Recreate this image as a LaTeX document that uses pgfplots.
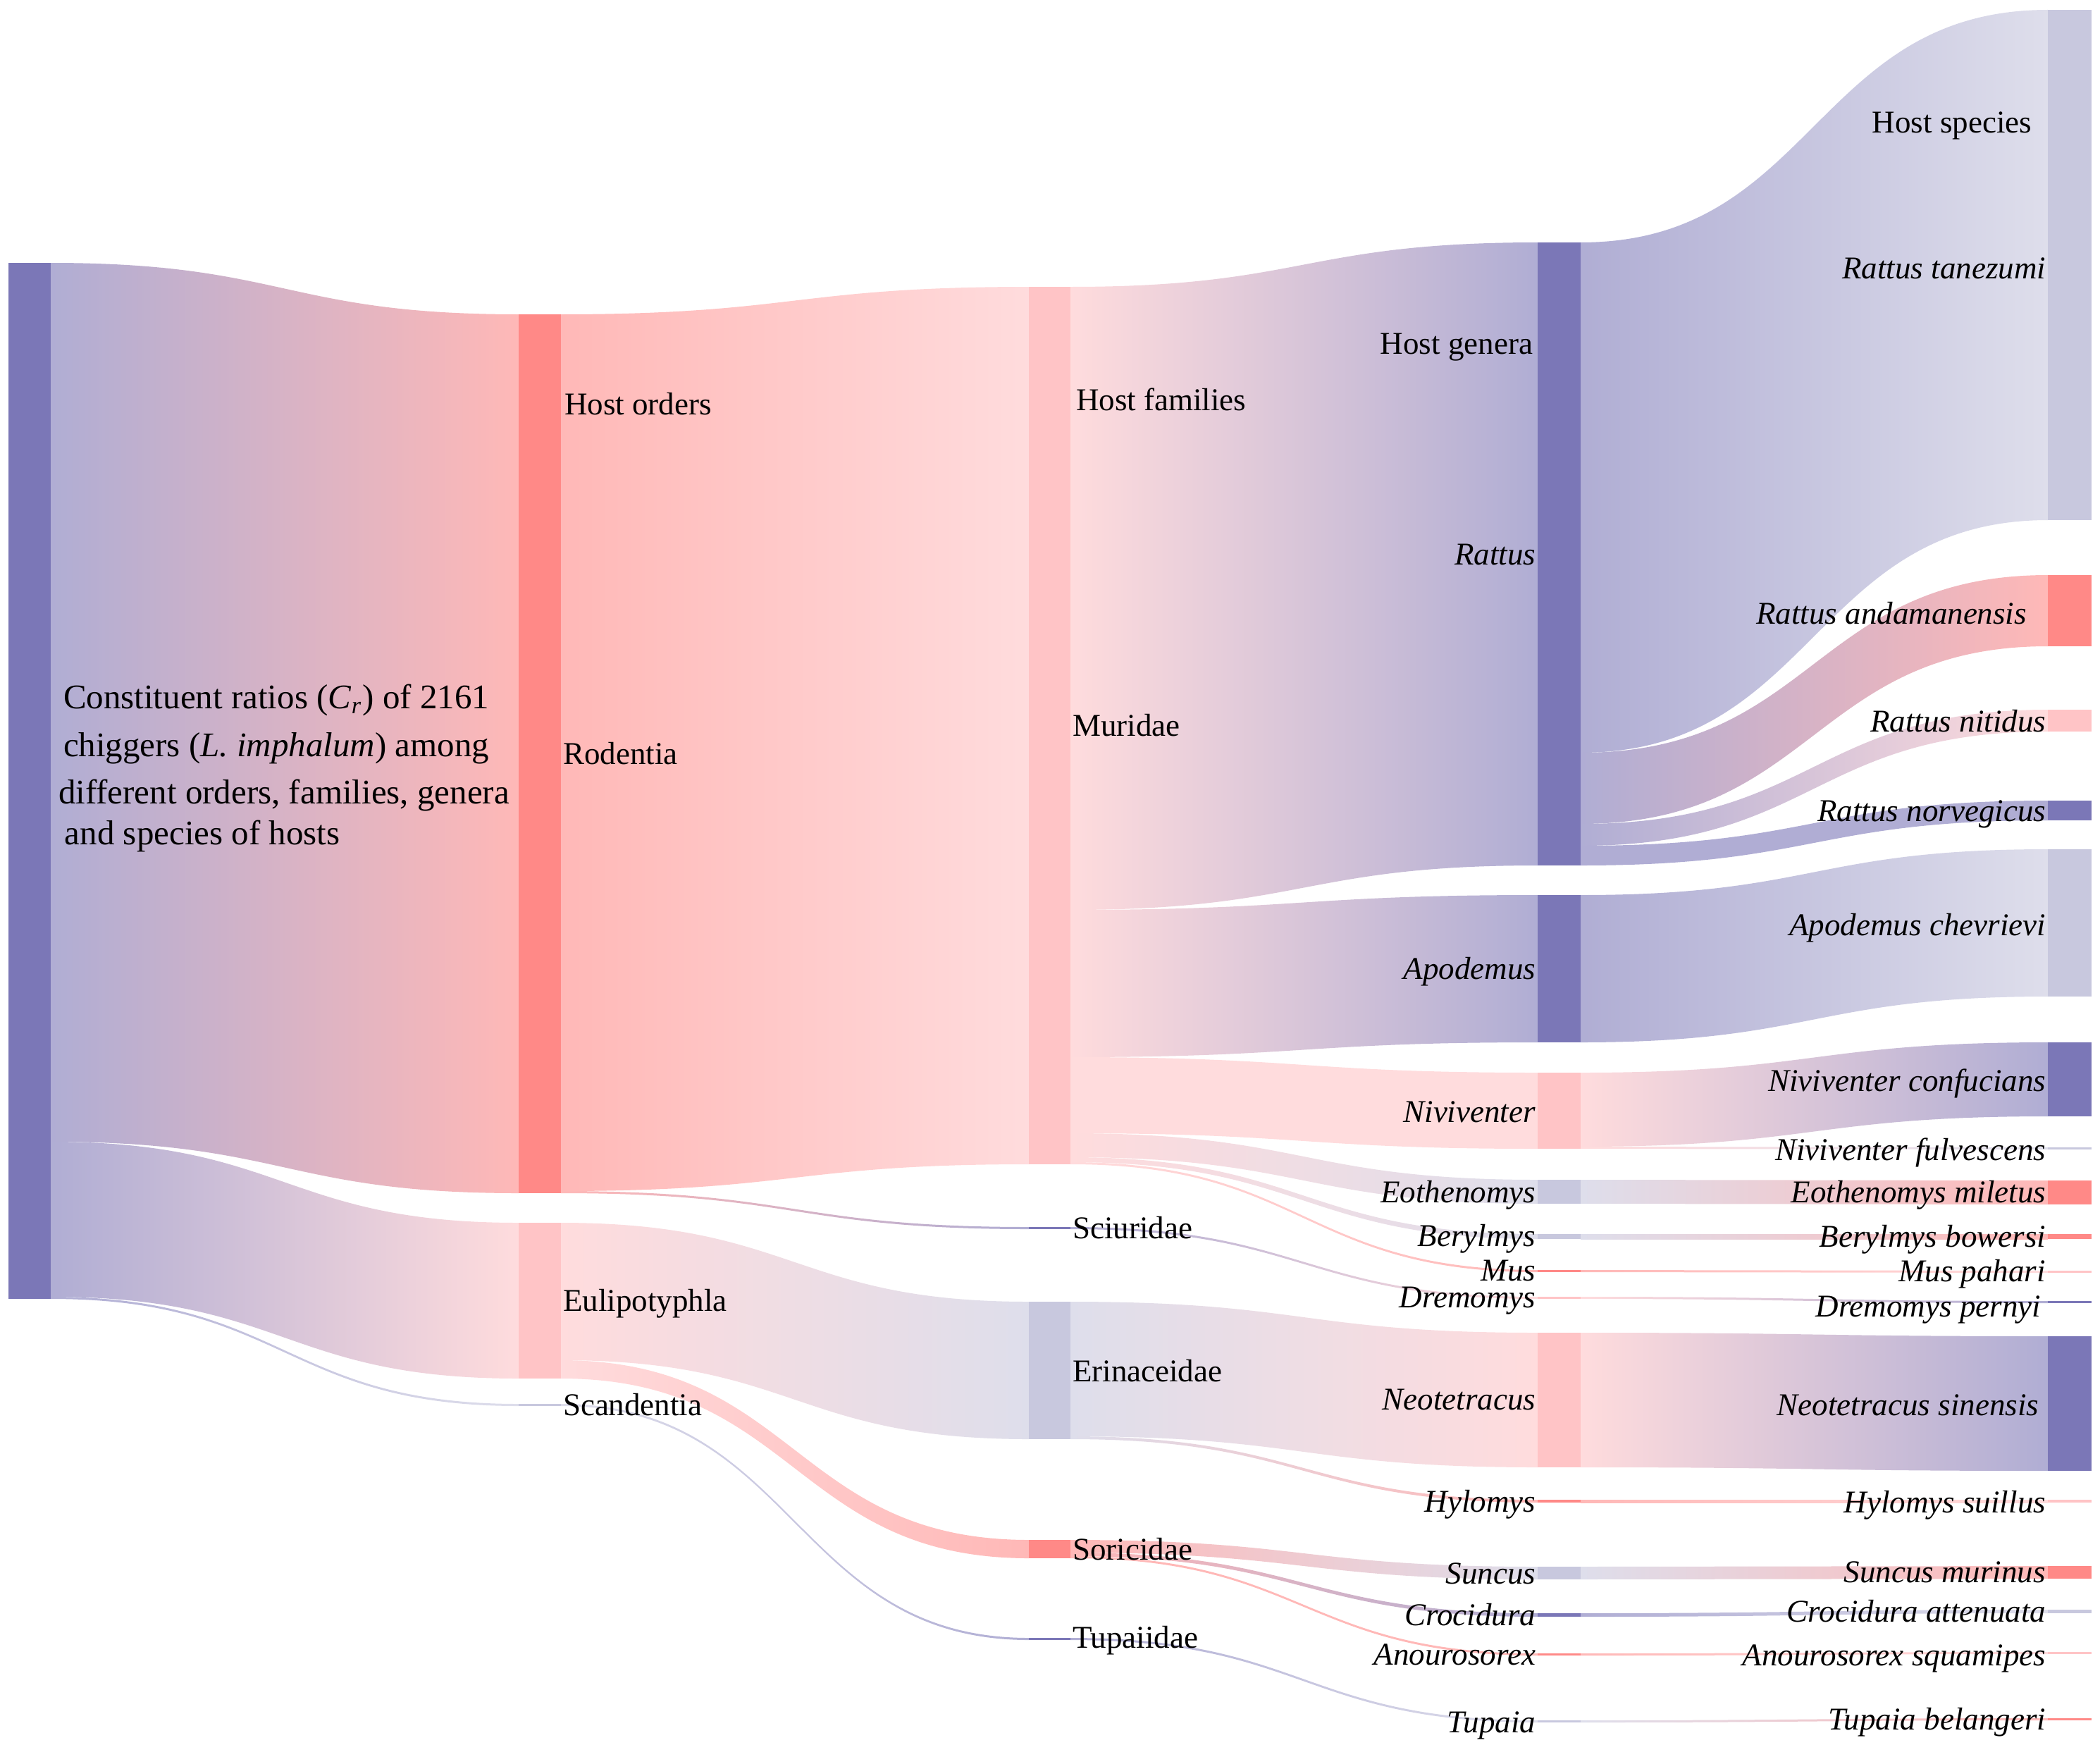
\documentclass[border=0pt]{standalone}
\usepackage{pgfplots}
\pgfplotsset{compat=1.18}
\usepackage{fontspec}
\setmainfont{Liberation Serif}
\definecolor{cPur}{RGB}{123,119,183}
\definecolor{cSal}{RGB}{255,137,135}
\definecolor{cPnk}{RGB}{255,196,198}
\definecolor{cLav}{RGB}{200,200,222}
% flow: x0, ytop0, ybot0, x1, ytop1, ybot1, colour0, colour1, xmid
\newcommand{\flow}[9]{\path[left color=#7!60!white, right color=#8!60!white]
  (axis cs:#1,#2) .. controls (axis cs:#9,#2) and (axis cs:#9,#5) .. (axis cs:#4,#5)
  -- (axis cs:#4,#6) .. controls (axis cs:#9,#6) and (axis cs:#9,#3) .. (axis cs:#1,#3) -- cycle;}
% node bar: x0, x1, ytop, ybot, colour
\newcommand{\nodebar}[5]{\addplot[fill=#5, draw=none, mark=none, forget plot] coordinates {(#1,#3) (#2,#3) (#2,#4) (#1,#4)};}
\newcommand{\lbl}[4]{\node[anchor=#1, inner sep=0pt, font=\fontsize{9}{11}\selectfont] at (axis cs:#2,#3) {#4};}
\newcommand{\rlbl}[4]{\node[anchor=#1, inner sep=0pt, font=\fontsize{9.8}{12}\selectfont] at (axis cs:#2,#3) {#4};}
\begin{document}
\begin{tikzpicture}
\begin{axis}[width=596pt, height=495pt, scale only axis,
  xmin=0, xmax=2980, ymin=0, ymax=2475, y dir=reverse,
  hide axis, clip=false]
% ---- level 1 -> 2
\flow{72}{373}{1620}{736}{446}{1693}{cPur}{cSal}{404}
\flow{72}{1620}{1840}{736}{1735}{1956}{cPur}{cPnk}{404}
\flow{72}{1840}{1843}{736}{1992}{1995}{cPur}{cLav}{404}
% ---- level 2 -> 3
\flow{796}{446}{1690}{1460}{407}{1652}{cSal}{cPnk}{1128}
\flow{796}{1690}{1693}{1460}{1741}{1744}{cSal}{cPur}{1128}
\flow{796}{1735}{1930}{1460}{1847}{2042}{cPnk}{cLav}{1128}
\flow{796}{1930}{1956}{1460}{2185}{2211}{cPnk}{cSal}{1128}
\flow{796}{1992}{1995}{1460}{2324}{2327}{cLav}{cPur}{1128}
% ---- level 3 -> 4
\flow{1519}{407}{1291}{2182}{344}{1228}{cPnk}{cPur}{1850}
\flow{1519}{1291}{1500}{2182}{1270}{1479}{cPnk}{cPur}{1850}
\flow{1519}{1500}{1608}{2182}{1522}{1630}{cPnk}{cPnk}{1850}
\flow{1519}{1608}{1642}{2182}{1674}{1708}{cPnk}{cLav}{1850}
\flow{1519}{1642}{1649}{2182}{1751}{1758}{cPnk}{cLav}{1850}
\flow{1519}{1649}{1652}{2182}{1802}{1805}{cPnk}{cSal}{1850}
\flow{1519}{1741}{1744}{2182}{1840}{1843}{cPur}{cPnk}{1850}
\flow{1519}{1847}{2038}{2182}{1891}{2082}{cLav}{cPnk}{1850}
\flow{1519}{2038}{2042}{2182}{2128}{2132}{cLav}{cSal}{1850}
\flow{1519}{2185}{2203}{2182}{2223}{2241}{cSal}{cLav}{1850}
\flow{1519}{2203}{2208}{2182}{2289}{2294}{cSal}{cPur}{1850}
\flow{1519}{2208}{2211}{2182}{2346}{2349}{cSal}{cSal}{1850}
\flow{1519}{2324}{2327}{2182}{2441}{2444}{cPur}{cLav}{1850}
% ---- level 4 -> 5
\flow{2243}{344}{1068}{2906}{14}{738}{cPur}{cLav}{2574}
\flow{2243}{1068}{1169}{2906}{816}{917}{cPur}{cSal}{2574}
\flow{2243}{1169}{1200}{2906}{1007}{1038}{cPur}{cPnk}{2574}
\flow{2243}{1200}{1228}{2906}{1136}{1164}{cPur}{cPur}{2574}
\flow{2243}{1270}{1479}{2906}{1205}{1414}{cPur}{cLav}{2574}
\flow{2243}{1522}{1627}{2906}{1479}{1584}{cPnk}{cPur}{2574}
\flow{2243}{1627}{1630}{2906}{1628}{1631}{cPnk}{cLav}{2574}
\flow{2243}{1674}{1708}{2906}{1675}{1709}{cLav}{cSal}{2574}
\flow{2243}{1751}{1758}{2906}{1751}{1758}{cLav}{cSal}{2574}
\flow{2243}{1802}{1805}{2906}{1803}{1806}{cSal}{cPnk}{2574}
\flow{2243}{1840}{1843}{2906}{1846}{1849}{cPnk}{cPur}{2574}
\flow{2243}{1891}{2082}{2906}{1896}{2087}{cPnk}{cPur}{2574}
\flow{2243}{2128}{2132}{2906}{2128}{2132}{cSal}{cPnk}{2574}
\flow{2243}{2223}{2241}{2906}{2222}{2240}{cLav}{cSal}{2574}
\flow{2243}{2289}{2294}{2906}{2284}{2289}{cPur}{cLav}{2574}
\flow{2243}{2346}{2349}{2906}{2344}{2347}{cSal}{cPnk}{2574}
\flow{2243}{2441}{2444}{2906}{2438}{2441}{cLav}{cSal}{2574}
% ---- nodes
\nodebar{12}{72}{373}{1843}{cPur}
\nodebar{736}{796}{446}{1693}{cSal}
\nodebar{736}{796}{1735}{1956}{cPnk}
\nodebar{736}{796}{1992}{1995}{cLav}
\nodebar{1460}{1519}{407}{1652}{cPnk}
\nodebar{1460}{1519}{1741}{1744}{cPur}
\nodebar{1460}{1519}{1847}{2042}{cLav}
\nodebar{1460}{1519}{2185}{2211}{cSal}
\nodebar{1460}{1519}{2324}{2327}{cPur}
\nodebar{2182}{2243}{344}{1228}{cPur}
\nodebar{2182}{2243}{1270}{1479}{cPur}
\nodebar{2182}{2243}{1522}{1630}{cPnk}
\nodebar{2182}{2243}{1674}{1708}{cLav}
\nodebar{2182}{2243}{1751}{1758}{cLav}
\nodebar{2182}{2243}{1802}{1805}{cSal}
\nodebar{2182}{2243}{1840}{1843}{cPnk}
\nodebar{2182}{2243}{1891}{2082}{cPnk}
\nodebar{2182}{2243}{2128}{2132}{cSal}
\nodebar{2182}{2243}{2223}{2241}{cLav}
\nodebar{2182}{2243}{2289}{2294}{cPur}
\nodebar{2182}{2243}{2346}{2349}{cSal}
\nodebar{2182}{2243}{2441}{2444}{cLav}
\nodebar{2906}{2968}{14}{738}{cLav}
\nodebar{2906}{2968}{816}{917}{cSal}
\nodebar{2906}{2968}{1007}{1038}{cPnk}
\nodebar{2906}{2968}{1136}{1164}{cPur}
\nodebar{2906}{2968}{1205}{1414}{cLav}
\nodebar{2906}{2968}{1479}{1584}{cPur}
\nodebar{2906}{2968}{1628}{1631}{cLav}
\nodebar{2906}{2968}{1675}{1709}{cSal}
\nodebar{2906}{2968}{1751}{1758}{cSal}
\nodebar{2906}{2968}{1803}{1806}{cPnk}
\nodebar{2906}{2968}{1846}{1849}{cPur}
\nodebar{2906}{2968}{1896}{2087}{cPur}
\nodebar{2906}{2968}{2128}{2132}{cPnk}
\nodebar{2906}{2968}{2222}{2240}{cSal}
\nodebar{2906}{2968}{2284}{2289}{cLav}
\nodebar{2906}{2968}{2344}{2347}{cPnk}
\nodebar{2906}{2968}{2438}{2441}{cSal}
% ---- root label
\rlbl{base west}{89}{1005}{Constituent ratios (\textit{C}\textsubscript{\textit{r}}) of 2161}
\rlbl{base west}{89}{1073}{chiggers (\textit{L. imphalum}) among}
\rlbl{base west}{82}{1140}{different orders, families, genera}
\rlbl{base west}{91}{1198}{and species of hosts}
% ---- orders
\lbl{base west}{800}{588}{Host orders}
\lbl{base west}{798}{1084}{Rodentia}
\lbl{base west}{798}{1860}{Eulipotyphla}
\lbl{base west}{798}{2008}{Scandentia}
% ---- families
\lbl{base west}{1526}{582}{Host families}
\lbl{base west}{1521}{1044}{Muridae}
\lbl{base west}{1521}{1757}{Sciuridae}
\lbl{base west}{1521}{1960}{Erinaceidae}
\lbl{base west}{1521}{2213}{Soricidae}
\lbl{base west}{1521}{2338}{Tupaiidae}
% ---- genera
\lbl{base east}{2176}{502}{Host genera}
\lbl{base east}{2180}{801}{\textit{Rattus}}
\lbl{base east}{2180}{1389}{\textit{Apodemus}}
\lbl{base east}{2180}{1592}{\textit{Niviventer}}
\lbl{base east}{2180}{1706}{\textit{Eothenomys}}
\lbl{base east}{2180}{1768}{\textit{Berylmys}}
\lbl{base east}{2180}{1817}{\textit{Mus}}
\lbl{base east}{2180}{1855}{\textit{Dremomys}}
\lbl{base east}{2180}{2000}{\textit{Neotetracus}}
\lbl{base east}{2180}{2145}{\textit{Hylomys}}
\lbl{base east}{2180}{2247}{\textit{Suncus}}
\lbl{base east}{2180}{2306}{\textit{Crocidura}}
\lbl{base east}{2180}{2362}{\textit{Anourosorex}}
\lbl{base east}{2180}{2458}{\textit{Tupaia}}
% ---- species
\lbl{base east}{2884}{189}{Host species}
\lbl{base east}{2904}{395}{\textit{Rattus tanezumi}}
\lbl{base east}{2877}{885}{\textit{Rattus andamanensis}}
\lbl{base east}{2904}{1038}{\textit{Rattus nitidus}}
\lbl{base east}{2904}{1165}{\textit{Rattus norvegicus}}
\lbl{base east}{2904}{1327}{\textit{Apodemus chevrievi}}
\lbl{base east}{2904}{1548}{\textit{Niviventer confucians}}
\lbl{base east}{2904}{1646}{\textit{Niviventer fulvescens}}
\lbl{base east}{2904}{1706}{\textit{Eothenomys miletus}}
\lbl{base east}{2904}{1769}{\textit{Berylmys bowersi}}
\lbl{base east}{2904}{1818}{\textit{Mus pahari}}
\lbl{base east}{2897}{1868}{\textit{Dremomys pernyi}}
\lbl{base east}{2894}{2008}{\textit{Neotetracus sinensis}}
\lbl{base east}{2904}{2146}{\textit{Hylomys suillus}}
\lbl{base east}{2904}{2245}{\textit{Suncus murinus}}
\lbl{base east}{2904}{2301}{\textit{Crocidura attenuata}}
\lbl{base east}{2904}{2363}{\textit{Anourosorex squamipes}}
\lbl{base east}{2904}{2454}{\textit{Tupaia belangeri}}
\end{axis}
\pgfresetboundingbox
\path (current axis.south west) rectangle (current axis.north east);
\end{tikzpicture}
\end{document}
